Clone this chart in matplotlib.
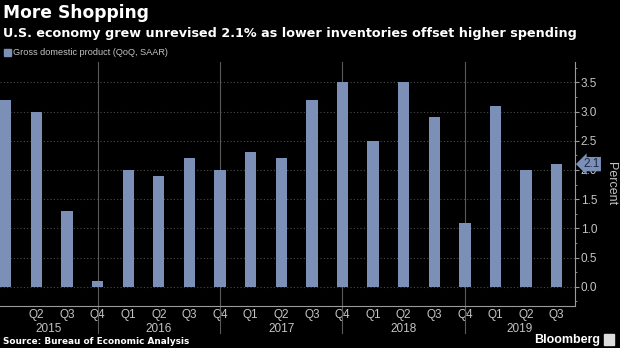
import numpy as np
import matplotlib
matplotlib.use("Agg")
import matplotlib.pyplot as plt

# Real GDP growth, quarter over quarter, seasonally adjusted annual rate
quarters = ["Q1", "Q2", "Q3", "Q4"] * 4 + ["Q1", "Q2", "Q3"]
years = ["2015", "2016", "2017", "2018", "2019"]
gdp = [3.2, 3.0, 1.3, 0.1,
       2.0, 1.9, 2.2, 2.0,
       2.3, 2.2, 3.2, 3.5,
       2.5, 3.5, 2.9, 1.1,
       3.1, 2.0, 2.1]
latest = gdp[-1]

bar_color = "#7b8fb7"
text_gray = "#c4c4c4"
small_font = "Liberation Sans"

fig = plt.figure(figsize=(6.2, 3.48), dpi=100, facecolor="black")
ax = fig.add_axes([0.0, 0.1207, 0.9275, 0.7013], facecolor="black")

x = np.arange(len(gdp))
ax.bar(x, gdp, width=0.37, color=bar_color, zorder=3)

xmin, xmax = -0.19, len(gdp) - 1 + 0.6
ax.set_xlim(xmin, xmax)
ax.set_ylim(-0.33, 3.85)

# dotted horizontal grid
for yv in np.arange(0, 3.6, 0.5):
    ax.axhline(yv, color="#4a4a4a", lw=0.8, ls=(0, (1, 2)), zorder=1)

# solid year separators through each Q4, running down past the axis
sep = [i for i, q in enumerate(quarters) if q == "Q4"]
for s in sep:
    ax.axvline(s, color="#5a5a5a", lw=0.8, zorder=1)
    ax.plot([s, s], [-0.33, -0.8], color="#5a5a5a", lw=0.8, clip_on=False)

# spines
for side in ["top", "left"]:
    ax.spines[side].set_visible(False)
ax.spines["bottom"].set_color("#9a9a9a")
ax.spines["right"].set_color("#9a9a9a")

# quarter labels, first one is clipped at the edge
ax.set_xticks(x[1:])
ax.set_xticklabels(quarters[1:], color=text_gray, fontsize=8.5,
                   family=small_font)
ax.tick_params(axis="x", length=0, pad=2)

# year labels centred between separators
bounds = [xmin] + sep + [xmax]
for yr, a, b in zip(years, bounds[:-1], bounds[1:]):
    ax.text((a + b) / 2, -0.72, yr, ha="center", va="center",
            color=text_gray, fontsize=8.5, family=small_font)

ax.yaxis.tick_right()
yt = np.arange(0, 3.6, 0.5)
ax.set_yticks(yt)
ax.set_yticklabels([f"{v:.1f}" for v in yt], color=text_gray, fontsize=8.5,
                   family=small_font)
ax.set_yticks(np.arange(-0.25, 3.8, 0.25), minor=True)
ax.tick_params(axis="y", which="major", length=3, color="#9a9a9a", pad=1)
ax.tick_params(axis="y", which="minor", length=1.5, color="#9a9a9a")

ax.text(1.062, 0.5, "Percent", transform=ax.transAxes, rotation=270,
        ha="center", va="center", color=text_gray, fontsize=9,
        family=small_font)

# latest value marker on the axis
ax.annotate(f"{latest}", xy=(1.0, latest), xycoords=("axes fraction", "data"),
            xytext=(6, 0), textcoords="offset points", ha="left", va="center",
            color="#1b2a48", fontsize=8.5, family=small_font,
            annotation_clip=False, zorder=5,
            bbox=dict(boxstyle="larrow,pad=0.1", fc=bar_color, ec="none"))

# titles and legend
fig.text(0.005, 0.962, "More Shopping", color="white", fontsize=12.3,
         fontweight="bold", va="center", ha="left")
fig.text(0.005, 0.905,
         "U.S. economy grew unrevised 2.1% as lower inventories offset higher spending",
         color="white", fontsize=9.2, fontweight="bold", va="center", ha="left")
fig.patches.append(plt.Rectangle((0.006, 0.838), 0.011, 0.02, color=bar_color,
                                 transform=fig.transFigure, figure=fig))
fig.text(0.021, 0.848, "Gross domestic product (QoQ, SAAR)", color=text_gray,
         fontsize=6.6, va="center", ha="left", family=small_font)

fig.text(0.005, 0.018, "Source: Bureau of Economic Analysis", color="white",
         fontsize=6.4, fontweight="bold", va="center", ha="left")
fig.text(0.968, 0.022, "Bloomberg", color="white", fontsize=9,
         fontweight="bold", va="center", ha="right", family=small_font)
fig.patches.append(plt.Rectangle((0.974, 0.008), 0.017, 0.032, color="#dddddd",
                                 transform=fig.transFigure, figure=fig))

fig.savefig("out.png", dpi=100, facecolor="black")
